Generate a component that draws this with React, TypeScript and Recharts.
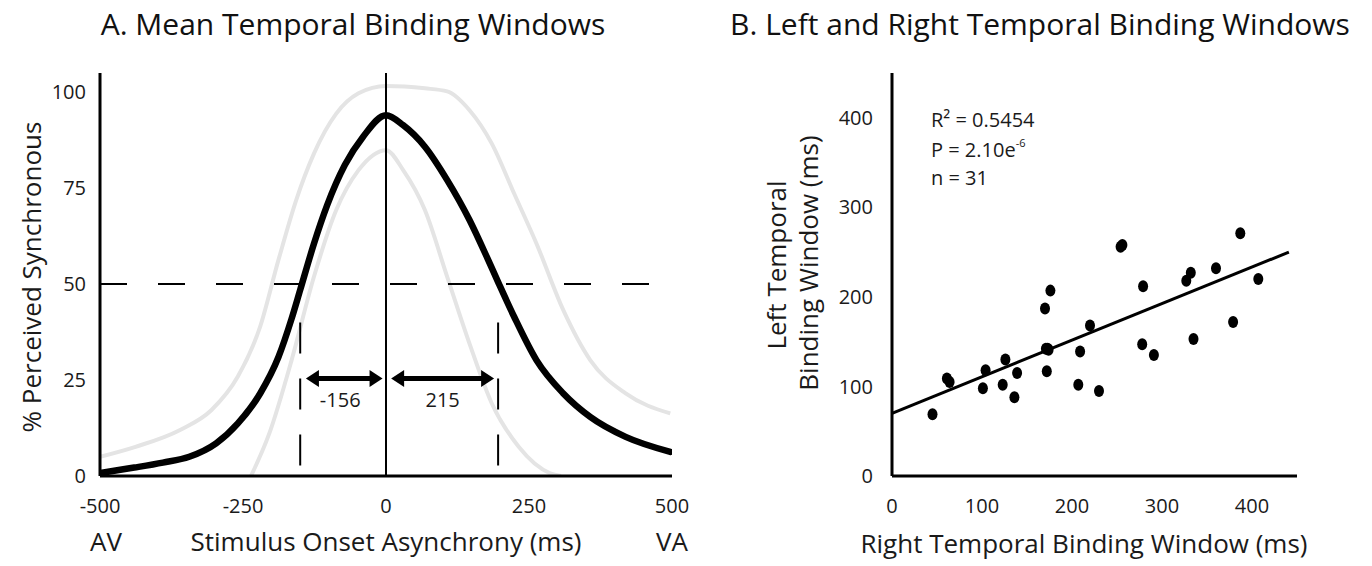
import React from 'react';
import {
  LineChart,
  Line,
  XAxis,
  YAxis,
  ReferenceLine,
  ReferenceDot,
  ScatterChart,
  Scatter,
} from 'recharts';

// ---------- Panel A data ----------
const soaTicks = [-500, -250, 0, 250, 500];
const pctTicks = [0, 25, 50, 75, 100];

const meanCurve = [
  { t: -500, p: 0.8 },
  { t: -440, p: 2.2 },
  { t: -390, p: 3.5 },
  { t: -344, p: 5.0 },
  { t: -297, p: 8.5 },
  { t: -259, p: 13.7 },
  { t: -220, p: 21.5 },
  { t: -188, p: 31 },
  { t: -165, p: 41 },
  { t: -150, p: 48.5 },
  { t: -126, p: 60.5 },
  { t: -103, p: 70.5 },
  { t: -72, p: 81.0 },
  { t: -40, p: 88.4 },
  { t: 0, p: 94 },
  { t: 30, p: 91.4 },
  { t: 68, p: 85.8 },
  { t: 107, p: 77.1 },
  { t: 146, p: 66.7 },
  { t: 178, p: 56.5 },
  { t: 197, p: 50.2 },
  { t: 224, p: 41.5 },
  { t: 263, p: 30.2 },
  { t: 310, p: 21.5 },
  { t: 357, p: 15.4 },
  { t: 419, p: 10.2 },
  { t: 497, p: 6.3 },
];

const upperCurve = [
  { t: -500, p: 5.0 },
  { t: -438, p: 7.6 },
  { t: -360, p: 12.0 },
  { t: -305, p: 17.2 },
  { t: -259, p: 25.9 },
  { t: -220, p: 38.9 },
  { t: -188, p: 56.3 },
  { t: -157, p: 71.9 },
  { t: -126, p: 84.0 },
  { t: -87, p: 94.4 },
  { t: -48, p: 99.7 },
  { t: 0, p: 101.6 },
  { t: 68, p: 101.0 },
  { t: 107, p: 100.2 },
  { t: 146, p: 95.3 },
  { t: 185, p: 86.6 },
  { t: 224, p: 73.6 },
  { t: 263, p: 60.6 },
  { t: 310, p: 43.2 },
  { t: 357, p: 30.2 },
  { t: 419, p: 21.5 },
  { t: 497, p: 16.3 },
];

const lowerCurve = [
  { t: -236, p: 0 },
  { t: -204, p: 11.1 },
  { t: -165, p: 30.2 },
  { t: -126, p: 51.9 },
  { t: -87, p: 69.3 },
  { t: -48, p: 79.7 },
  { t: 0, p: 84.9 },
  { t: 30, p: 79.7 },
  { t: 68, p: 69.3 },
  { t: 107, p: 51.9 },
  { t: 146, p: 34.5 },
  { t: 185, p: 18.9 },
  { t: 232, p: 7.6 },
  { t: 287, p: 0.7 },
  { t: 306, p: 0 },
];

const halfLevel = 50;
const leftHalfX = -150;
const rightHalfX = 196;
const leftLabel = '-156';
const rightLabel = '215';

// ---------- Panel B data ----------
const tbwTicks = [0, 100, 200, 300, 400];
const rightTBW = [
  45, 61, 64, 101, 104, 123, 126, 136, 139, 170, 176, 171, 174, 173, 172,
  207, 209, 220, 230, 254, 256, 279, 278, 291, 327, 332, 335, 360, 379, 387, 407,
];
const leftTBW = [
  69, 109, 105, 98, 118, 102, 130, 88, 115, 187, 207, 142, 141, 142, 117,
  102, 139, 168, 95, 256, 258, 212, 147, 135, 218, 227, 153, 232, 172, 271, 220,
];
const fitLine = [
  { x: 0, y: 70 },
  { x: 441, y: 250 },
];
const statsLines = ['R² = 0.5454', 'P = 2.10e', 'n = 31'];

const scatterData = rightTBW.map((x, i) => ({ x, y: leftTBW[i] }));

const FONT = '"Open Sans", "Noto Sans", sans-serif';
const TXT = '#1a1a1a';

const tickStyle = { fill: TXT, fontSize: 20, fontFamily: FONT };
const axisLineStyle = { stroke: '#000', strokeWidth: 3 };

const arrowShape = (props: any) => {
  const { x1, y1, x2 } = props;
  const left = Math.min(x1, x2);
  const right = Math.max(x1, x2);
  const y = y1;
  const h = 13;
  const w = 8.5;
  return (
    <g>
      <line x1={left + h - 1} y1={y} x2={right - h + 1} y2={y} stroke="#000" strokeWidth={5} />
      <polygon points={`${left},${y} ${left + h},${y - w} ${left + h},${y + w}`} fill="#000" />
      <polygon points={`${right},${y} ${right - h},${y - w} ${right - h},${y + w}`} fill="#000" />
    </g>
  );
};

const textDot = (label: string) => (props: any) => (
  <text
    x={props.cx}
    y={props.cy}
    textAnchor="middle"
    dominantBaseline="central"
    fontSize={20}
    fontFamily={FONT}
    fill={TXT}
  >
    {label}
  </text>
);

const ellipseShape = (props: any) => (
  <ellipse cx={props.cx} cy={props.cy} rx={5} ry={6} fill="#000" />
);

export default function App() {
  return (
    <div
      style={{
        position: 'absolute',
        left: 0,
        top: 0,
        width: 1372,
        height: 566,
        background: '#fff',
        overflow: 'hidden',
      }}
    >
      <div style={{ position: 'absolute', left: 0, top: 0 }}>
        <LineChart width={700} height={566} margin={{ top: 73, right: 28, bottom: 60, left: 0 }}>
          <XAxis
            type="number"
            dataKey="t"
            domain={[-500, 500]}
            ticks={soaTicks}
            allowDataOverflow
            axisLine={axisLineStyle}
            tickLine={false}
            tickSize={0}
            tickMargin={23}
            height={30}
            tick={tickStyle}
          />
          <YAxis
            type="number"
            domain={[0, 105]}
            ticks={pctTicks}
            allowDataOverflow
            axisLine={axisLineStyle}
            tickLine={false}
            tickSize={0}
            tickMargin={14}
            width={100}
            tick={tickStyle}
          />
          <Line
            data={upperCurve}
            dataKey="p"
            type="monotone"
            stroke="#e4e4e4"
            strokeWidth={4}
            dot={false}
            isAnimationActive={false}
          />
          <Line
            data={lowerCurve}
            dataKey="p"
            type="monotone"
            stroke="#e4e4e4"
            strokeWidth={4}
            dot={false}
            isAnimationActive={false}
          />
          <ReferenceLine
            segment={[
              { x: -500, y: halfLevel },
              { x: 480, y: halfLevel },
            ]}
            stroke="#000"
            strokeWidth={2}
            strokeDasharray="27 31"
          />
          <ReferenceLine x={0} stroke="#000" strokeWidth={2} />
          <ReferenceLine
            segment={[
              { x: leftHalfX, y: 40 },
              { x: leftHalfX, y: 0 },
            ]}
            stroke="#000"
            strokeWidth={2}
            strokeDasharray="31 25"
          />
          <ReferenceLine
            segment={[
              { x: rightHalfX, y: 40 },
              { x: rightHalfX, y: 0 },
            ]}
            stroke="#000"
            strokeWidth={2}
            strokeDasharray="31 25"
          />
          <Line
            data={meanCurve}
            dataKey="p"
            type="monotone"
            stroke="#000"
            strokeWidth={6.5}
            strokeLinecap="round"
            dot={false}
            isAnimationActive={false}
          />
          <ReferenceLine
            segment={[
              { x: -140, y: 25.4 },
              { x: -6, y: 25.4 },
            ]}
            shape={arrowShape}
          />
          <ReferenceLine
            segment={[
              { x: 9, y: 25.4 },
              { x: 189, y: 25.4 },
            ]}
            shape={arrowShape}
          />
          <ReferenceDot x={-80} y={20} r={0} shape={textDot(leftLabel)} />
          <ReferenceDot x={99} y={20} r={0} shape={textDot(rightLabel)} />
        </LineChart>
      </div>

      <div style={{ position: 'absolute', left: 700, top: 0 }}>
        <ScatterChart width={672} height={566} margin={{ top: 73, right: 75, bottom: 60, left: 0 }}>
          <XAxis
            type="number"
            dataKey="x"
            domain={[0, 450]}
            ticks={tbwTicks}
            allowDataOverflow
            axisLine={axisLineStyle}
            tickLine={false}
            tickSize={0}
            tickMargin={23}
            height={30}
            tick={tickStyle}
          />
          <YAxis
            type="number"
            dataKey="y"
            domain={[0, 450]}
            ticks={tbwTicks}
            allowDataOverflow
            axisLine={axisLineStyle}
            tickLine={false}
            tickSize={0}
            tickMargin={19}
            width={192}
            tick={tickStyle}
          />
          <ReferenceLine
            segment={[fitLine[0], fitLine[1]]}
            stroke="#000"
            strokeWidth={3}
          />
          <Scatter data={scatterData} fill="#000" shape={ellipseShape} isAnimationActive={false} />
        </ScatterChart>
      </div>

      <svg
        width={1372}
        height={566}
        style={{ position: 'absolute', left: 0, top: 0, pointerEvents: 'none' }}
        fontFamily={FONT}
        fill={TXT}
      >
        <text x={353} y={23} textAnchor="middle" dominantBaseline="central" fontSize={30} fill="#111">
          A. Mean Temporal Binding Windows
        </text>
        <text x={1040} y={23} textAnchor="middle" dominantBaseline="central" fontSize={30} fill="#111">
          B. Left and Right Temporal Binding Windows
        </text>
        <text
          x={31}
          y={277}
          textAnchor="middle"
          dominantBaseline="central"
          fontSize={26}
          transform="rotate(-90 31 277)"
        >
          % Perceived Synchronous
        </text>
        <text x={106} y={541} textAnchor="middle" dominantBaseline="central" fontSize={26}>
          AV
        </text>
        <text x={386} y={541} textAnchor="middle" dominantBaseline="central" fontSize={26}>
          Stimulus Onset Asynchrony (ms)
        </text>
        <text x={672} y={541} textAnchor="middle" dominantBaseline="central" fontSize={26}>
          VA
        </text>
        <text
          x={776}
          y={265}
          textAnchor="middle"
          dominantBaseline="central"
          fontSize={26}
          transform="rotate(-90 776 265)"
        >
          Left Temporal
        </text>
        <text
          x={808}
          y={263}
          textAnchor="middle"
          dominantBaseline="central"
          fontSize={26}
          transform="rotate(-90 808 263)"
        >
          Binding Window (ms)
        </text>
        <text x={1084} y={543} textAnchor="middle" dominantBaseline="central" fontSize={26}>
          Right Temporal Binding Window (ms)
        </text>
        <text x={931} y={119} dominantBaseline="central" fontSize={20}>
          {statsLines[0]}
        </text>
        <text x={931} y={149} dominantBaseline="central" fontSize={20}>
          {statsLines[1]}
          <tspan fontSize={11} dy={-7}>-6</tspan>
        </text>
        <text x={931} y={177} dominantBaseline="central" fontSize={20}>
          {statsLines[2]}
        </text>
      </svg>
    </div>
  );
}
